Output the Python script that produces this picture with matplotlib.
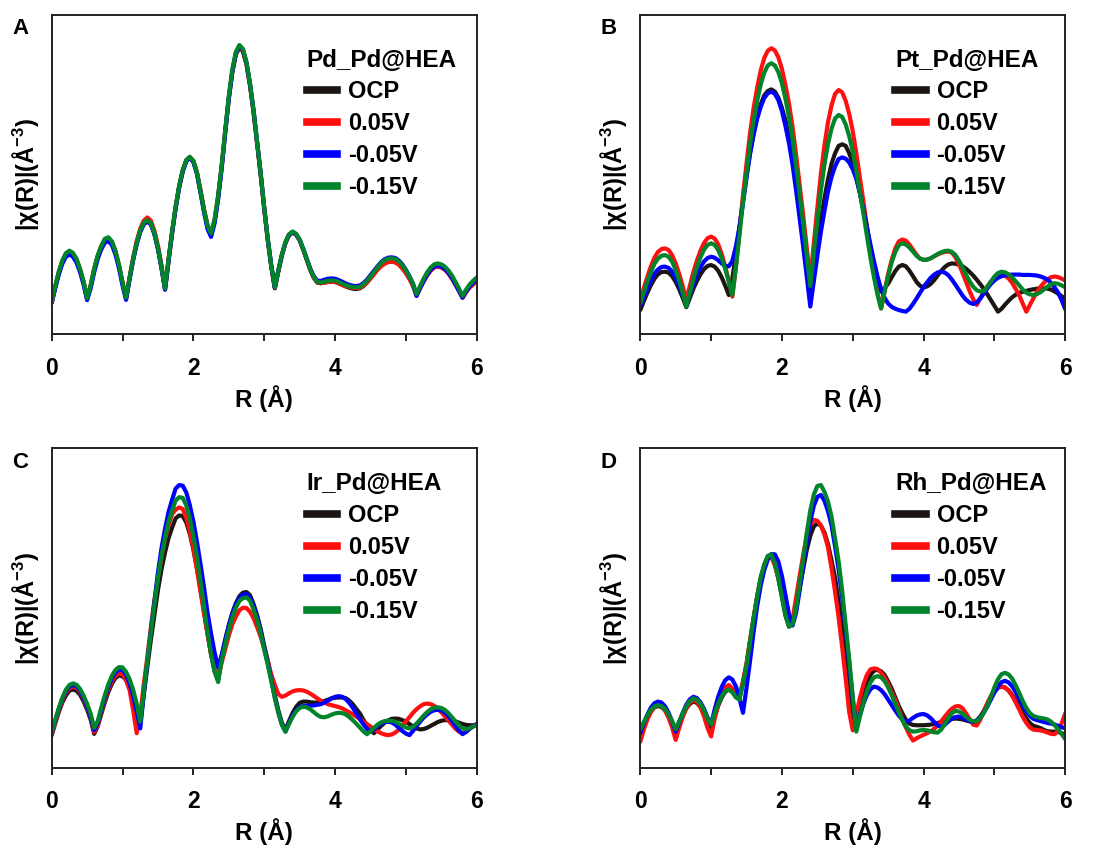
import numpy as np
import matplotlib
matplotlib.use('Agg')
import matplotlib.pyplot as plt
from matplotlib.lines import Line2D

plt.rcParams['font.family'] = ['Liberation Sans', 'DejaVu Sans']
plt.rcParams['font.weight'] = 'bold'
plt.rcParams['mathtext.fontset'] = 'custom'
plt.rcParams['mathtext.rm'] = 'Liberation Sans:bold'
plt.rcParams['mathtext.default'] = 'rm'

# R grid (Å), 0.05 step
r = np.round(np.arange(0, 6.0001, 0.05), 2)

# |chi(R)| magnitudes, arbitrary units (axis spans 0-10)
pd_ocp = [1.00, 1.48, 1.93, 2.27, 2.50, 2.58, 2.51, 2.33, 2.02, 1.63,
          1.12, 1.51, 2.03, 2.44, 2.74, 2.95, 3.00, 2.88, 2.58, 2.14,
          1.60, 1.14, 1.76, 2.35, 2.84, 3.22, 3.47, 3.55, 3.46, 3.15,
          2.68, 2.08, 1.42, 2.33, 3.20, 3.98, 4.63, 5.12, 5.43, 5.53,
          5.41, 5.05, 4.48, 3.88, 3.37, 3.12, 3.55, 4.30, 5.25, 6.35,
          7.38, 8.22, 8.77, 8.98, 8.86, 8.46, 7.79, 6.96, 5.98, 5.01,
          3.94, 2.96, 2.12, 1.44, 1.98, 2.47, 2.86, 3.10, 3.19, 3.12,
          2.95, 2.66, 2.34, 2.02, 1.77, 1.62, 1.60, 1.62, 1.64, 1.65,
          1.64, 1.60, 1.55, 1.50, 1.46, 1.43, 1.42, 1.44, 1.51, 1.62,
          1.76, 1.90, 2.05, 2.18, 2.27, 2.32, 2.33, 2.31, 2.23, 2.11,
          1.95, 1.76, 1.54, 1.23, 1.47, 1.70, 1.90, 2.05, 2.15, 2.18,
          2.15, 2.08, 1.96, 1.80, 1.60, 1.39, 1.17, 1.36, 1.52, 1.64,
          1.74]
pd_005 = [1.00, 1.49, 1.94, 2.29, 2.52, 2.60, 2.53, 2.35, 2.04, 1.64,
          1.12, 1.52, 2.04, 2.45, 2.75, 2.97, 3.02, 2.89, 2.60, 2.16,
          1.62, 1.13, 1.78, 2.40, 2.92, 3.31, 3.56, 3.66, 3.56, 3.25,
          2.78, 2.17, 1.40, 2.30, 3.18, 3.97, 4.63, 5.13, 5.45, 5.55,
          5.43, 5.08, 4.52, 3.92, 3.42, 3.16, 3.58, 4.32, 5.26, 6.36,
          7.40, 8.24, 8.78, 8.98, 8.86, 8.46, 7.79, 6.96, 5.98, 5.01,
          3.94, 2.96, 2.12, 1.45, 1.99, 2.48, 2.87, 3.11, 3.20, 3.13,
          2.95, 2.66, 2.34, 2.02, 1.77, 1.62, 1.60, 1.62, 1.64, 1.65,
          1.64, 1.60, 1.55, 1.51, 1.48, 1.46, 1.45, 1.46, 1.52, 1.62,
          1.75, 1.88, 2.02, 2.13, 2.21, 2.26, 2.27, 2.25, 2.18, 2.06,
          1.91, 1.73, 1.52, 1.22, 1.44, 1.65, 1.84, 1.99, 2.09, 2.12,
          2.09, 2.02, 1.90, 1.74, 1.55, 1.35, 1.14, 1.32, 1.46, 1.56,
          1.65]
pd_m005 = [0.98, 1.44, 1.87, 2.21, 2.43, 2.50, 2.43, 2.25, 1.95, 1.56,
           1.07, 1.44, 1.95, 2.36, 2.66, 2.87, 2.92, 2.80, 2.50, 2.07,
           1.53, 1.08, 1.72, 2.32, 2.82, 3.20, 3.45, 3.53, 3.44, 3.14,
           2.68, 2.08, 1.40, 2.30, 3.17, 3.95, 4.60, 5.10, 5.42, 5.53,
           5.40, 5.03, 4.45, 3.83, 3.30, 3.05, 3.48, 4.24, 5.20, 6.32,
           7.38, 8.23, 8.80, 9.02, 8.91, 8.50, 7.83, 7.00, 6.02, 5.04,
           3.97, 2.99, 2.15, 1.46, 2.00, 2.49, 2.88, 3.12, 3.20, 3.13,
           2.96, 2.68, 2.37, 2.06, 1.82, 1.68, 1.67, 1.71, 1.74, 1.75,
           1.74, 1.70, 1.65, 1.59, 1.55, 1.52, 1.51, 1.53, 1.60, 1.71,
           1.85, 1.99, 2.13, 2.26, 2.35, 2.40, 2.41, 2.39, 2.31, 2.19,
           2.02, 1.82, 1.58, 1.20, 1.44, 1.67, 1.87, 2.02, 2.12, 2.15,
           2.12, 2.05, 1.93, 1.77, 1.57, 1.36, 1.15, 1.34, 1.50, 1.62,
           1.72]
pd_m015 = [1.02, 1.51, 1.96, 2.31, 2.54, 2.62, 2.55, 2.36, 2.05, 1.65,
           1.13, 1.54, 2.06, 2.47, 2.77, 2.99, 3.04, 2.91, 2.61, 2.17,
           1.62, 1.15, 1.78, 2.37, 2.87, 3.25, 3.50, 3.58, 3.48, 3.17,
           2.70, 2.10, 1.44, 2.36, 3.23, 4.01, 4.66, 5.15, 5.46, 5.56,
           5.43, 5.07, 4.50, 3.90, 3.40, 3.16, 3.60, 4.35, 5.30, 6.40,
           7.45, 8.30, 8.85, 9.06, 8.94, 8.53, 7.85, 7.01, 6.02, 5.04,
           3.97, 2.99, 2.15, 1.47, 2.01, 2.50, 2.89, 3.13, 3.22, 3.15,
           2.97, 2.68, 2.36, 2.04, 1.79, 1.64, 1.62, 1.65, 1.68, 1.69,
           1.68, 1.64, 1.59, 1.54, 1.50, 1.48, 1.47, 1.49, 1.56, 1.67,
           1.81, 1.95, 2.10, 2.23, 2.32, 2.37, 2.38, 2.36, 2.28, 2.16,
           2.00, 1.81, 1.59, 1.26, 1.51, 1.74, 1.94, 2.09, 2.19, 2.22,
           2.19, 2.12, 2.00, 1.84, 1.64, 1.43, 1.20, 1.40, 1.56, 1.68,
           1.78]

pt_ocp = [0.76, 1.04, 1.30, 1.54, 1.74, 1.88, 1.95, 1.96, 1.93, 1.82,
          1.64, 1.41, 1.14, 0.85, 1.14, 1.43, 1.67, 1.88, 2.04, 2.14,
          2.17, 2.12, 1.99, 1.78, 1.52, 1.23, 1.75, 2.50, 3.35, 4.20,
          5.00, 5.70, 6.30, 6.80, 7.20, 7.48, 7.62, 7.67, 7.60, 7.41,
          7.09, 6.70, 6.19, 5.48, 4.71, 3.87, 3.03, 2.13, 1.23, 2.03,
          2.84, 3.59, 4.25, 4.86, 5.34, 5.67, 5.90, 5.95, 5.90, 5.67,
          5.35, 4.93, 4.43, 3.92, 3.32, 2.68, 2.17, 1.71, 1.34, 1.45,
          1.59, 1.79, 1.98, 2.12, 2.17, 2.13, 1.99, 1.82, 1.64, 1.52,
          1.47, 1.50, 1.58, 1.70, 1.85, 1.99, 2.11, 2.19, 2.22, 2.21,
          2.18, 2.13, 2.05, 1.95, 1.84, 1.71, 1.57, 1.42, 1.25, 1.07,
          0.89, 0.71, 0.80, 0.93, 1.05, 1.16, 1.24, 1.30, 1.33, 1.36,
          1.39, 1.41, 1.43, 1.44, 1.44, 1.43, 1.40, 1.34, 1.27, 1.19,
          1.10]
pt_005 = [1.08, 1.45, 1.80, 2.13, 2.40, 2.58, 2.67, 2.69, 2.64, 2.48,
          2.22, 1.89, 1.50, 1.08, 1.52, 1.95, 2.31, 2.62, 2.86, 3.01,
          3.06, 3.00, 2.82, 2.51, 2.12, 1.67, 1.18, 2.10, 3.20, 4.35,
          5.35, 6.31, 7.09, 7.72, 8.26, 8.65, 8.88, 8.96, 8.89, 8.67,
          8.31, 7.80, 7.22, 6.49, 5.62, 4.68, 3.73, 2.72, 1.70, 2.86,
          3.96, 5.03, 5.92, 6.64, 7.17, 7.53, 7.65, 7.58, 7.31, 6.90,
          6.35, 5.67, 4.91, 4.16, 3.38, 2.59, 1.90, 1.29, 0.81, 1.37,
          1.89, 2.34, 2.69, 2.91, 2.97, 2.93, 2.81, 2.65, 2.49, 2.37,
          2.33, 2.34, 2.38, 2.44, 2.50, 2.55, 2.58, 2.59, 2.56, 2.41,
          2.19, 1.92, 1.64, 1.35, 1.10, 0.92, 1.13, 1.33, 1.50, 1.65,
          1.77, 1.84, 1.86, 1.83, 1.75, 1.61, 1.42, 1.22, 0.96, 0.71,
          0.92, 1.13, 1.33, 1.49, 1.62, 1.72, 1.79, 1.81, 1.79, 1.74,
          1.68]
pt_m005 = [0.87, 1.16, 1.43, 1.68, 1.90, 2.03, 2.11, 2.12, 2.08, 1.96,
           1.77, 1.52, 1.23, 0.92, 1.25, 1.58, 1.86, 2.10, 2.28, 2.39,
           2.43, 2.40, 2.32, 2.22, 2.14, 2.13, 2.30, 2.75, 3.35, 4.10,
           4.90, 5.65, 6.25, 6.75, 7.12, 7.40, 7.55, 7.60, 7.53, 7.33,
           6.99, 6.52, 5.98, 5.31, 4.50, 3.63, 2.75, 1.81, 0.87, 1.66,
           2.46, 3.21, 3.86, 4.47, 4.93, 5.26, 5.49, 5.54, 5.50, 5.38,
           5.17, 4.87, 4.43, 3.90, 3.35, 2.80, 2.28, 1.80, 1.42, 1.14,
           0.96, 0.86, 0.80, 0.76, 0.73, 0.71, 0.80, 0.95, 1.12, 1.30,
           1.48, 1.63, 1.77, 1.87, 1.94, 1.96, 1.93, 1.85, 1.71, 1.55,
           1.38, 1.21, 1.08, 0.99, 0.95, 1.00, 1.12, 1.28, 1.44, 1.58,
           1.69, 1.77, 1.82, 1.85, 1.86, 1.87, 1.87, 1.87, 1.86, 1.86,
           1.86, 1.85, 1.84, 1.81, 1.77, 1.71, 1.61, 1.47, 1.30, 1.06,
           0.78]
pt_m015 = [0.97, 1.32, 1.65, 1.95, 2.21, 2.37, 2.46, 2.48, 2.43, 2.27,
           2.01, 1.68, 1.29, 0.87, 1.31, 1.74, 2.10, 2.41, 2.65, 2.80,
           2.85, 2.80, 2.64, 2.38, 2.04, 1.65, 1.23, 2.10, 3.10, 4.15,
           5.05, 5.95, 6.70, 7.30, 7.82, 8.19, 8.42, 8.49, 8.42, 8.21,
           7.86, 7.37, 6.81, 6.12, 5.28, 4.37, 3.46, 2.49, 1.51, 2.56,
           3.55, 4.51, 5.32, 5.96, 6.44, 6.76, 6.87, 6.81, 6.57, 6.20,
           5.72, 5.11, 4.45, 3.78, 3.08, 2.39, 1.78, 1.23, 0.81, 1.34,
           1.83, 2.26, 2.58, 2.79, 2.85, 2.81, 2.72, 2.59, 2.46, 2.37,
           2.33, 2.34, 2.38, 2.45, 2.52, 2.57, 2.61, 2.62, 2.58, 2.48,
           2.30, 2.10, 1.86, 1.66, 1.49, 1.38, 1.34, 1.36, 1.49, 1.65,
           1.81, 1.92, 1.96, 1.94, 1.88, 1.78, 1.66, 1.53, 1.40, 1.30,
           1.25, 1.23, 1.26, 1.32, 1.41, 1.50, 1.57, 1.60, 1.58, 1.53,
           1.47]

ir_ocp = [1.02, 1.39, 1.74, 2.04, 2.26, 2.41, 2.45, 2.41, 2.29, 2.08,
          1.82, 1.51, 1.06, 1.30, 1.68, 2.05, 2.37, 2.63, 2.81, 2.89,
          2.86, 2.75, 2.52, 2.21, 1.81, 1.39, 2.30, 3.15, 4.00, 4.78,
          5.56, 6.21, 6.74, 7.19, 7.52, 7.81, 7.90, 7.88, 7.68, 7.32,
          6.83, 6.25, 5.60, 4.90, 4.20, 3.55, 3.03, 2.77, 3.50, 4.01,
          4.46, 4.85, 5.15, 5.37, 5.48, 5.50, 5.40, 5.12, 4.77, 4.34,
          3.82, 3.35, 2.80, 2.26, 1.79, 1.40, 1.18, 1.46, 1.71, 1.90,
          2.03, 2.07, 2.07, 2.05, 2.04, 2.04, 2.06, 2.09, 2.13, 2.17,
          2.19, 2.20, 2.20, 2.18, 2.10, 1.99, 1.84, 1.70, 1.50, 1.33,
          1.19, 1.08, 1.20, 1.31, 1.41, 1.48, 1.53, 1.54, 1.53, 1.49,
          1.44, 1.37, 1.29, 1.23, 1.20, 1.21, 1.25, 1.31, 1.37, 1.43,
          1.47, 1.49, 1.49, 1.48, 1.45, 1.41, 1.37, 1.34, 1.33, 1.33,
          1.34]
ir_005 = [1.02, 1.42, 1.78, 2.10, 2.34, 2.49, 2.54, 2.50, 2.38, 2.16,
          1.90, 1.58, 1.12, 1.33, 1.75, 2.13, 2.45, 2.71, 2.88, 2.96,
          2.93, 2.74, 2.43, 1.80, 1.08, 1.65, 2.61, 3.46, 4.39, 5.24,
          5.95, 6.59, 7.16, 7.58, 7.94, 8.08, 8.15, 8.10, 7.83, 7.40,
          6.87, 6.22, 5.53, 4.83, 4.19, 3.55, 3.07, 2.82, 3.29, 3.71,
          4.13, 4.49, 4.73, 4.93, 5.01, 5.00, 4.88, 4.68, 4.40, 4.10,
          3.73, 3.34, 2.92, 2.59, 2.30, 2.22, 2.26, 2.33, 2.39, 2.42,
          2.43, 2.42, 2.38, 2.32, 2.25, 2.17, 2.10, 2.04, 1.99, 1.96,
          1.93, 1.90, 1.86, 1.80, 1.74, 1.67, 1.60, 1.53, 1.45, 1.37,
          1.29, 1.21, 1.14, 1.08, 1.04, 1.02, 1.04, 1.10, 1.19, 1.31,
          1.45, 1.58, 1.72, 1.83, 1.92, 1.99, 2.01, 1.99, 1.94, 1.85,
          1.74, 1.61, 1.48, 1.35, 1.22, 1.13, 1.08, 1.13, 1.22, 1.30,
          1.37]
ir_m005 = [1.08, 1.47, 1.84, 2.15, 2.39, 2.54, 2.59, 2.55, 2.42, 2.19,
           1.92, 1.60, 1.18, 1.39, 1.81, 2.20, 2.53, 2.80, 2.98, 3.07,
           3.06, 2.91, 2.64, 2.25, 1.77, 1.23, 2.30, 3.29, 4.28, 5.19,
           6.11, 6.87, 7.48, 8.01, 8.39, 8.74, 8.85, 8.83, 8.62, 8.22,
           7.71, 7.08, 6.39, 5.65, 4.85, 4.20, 3.60, 3.14, 3.53, 3.99,
           4.44, 4.81, 5.11, 5.31, 5.42, 5.44, 5.33, 5.05, 4.71, 4.28,
           3.76, 3.28, 2.75, 2.21, 1.73, 1.35, 1.13, 1.40, 1.63, 1.80,
           1.90, 1.93, 1.94, 1.94, 1.95, 1.97, 1.99, 2.04, 2.10, 2.17,
           2.22, 2.24, 2.22, 2.15, 2.03, 1.88, 1.70, 1.52, 1.36, 1.22,
           1.13, 1.20, 1.30, 1.38, 1.43, 1.44, 1.42, 1.35, 1.25, 1.15,
           1.07, 1.02, 1.15, 1.30, 1.44, 1.57, 1.67, 1.75, 1.80, 1.81,
           1.79, 1.73, 1.62, 1.47, 1.31, 1.16, 1.05, 1.12, 1.22, 1.30,
           1.37]
ir_m015 = [1.08, 1.49, 1.86, 2.19, 2.44, 2.59, 2.64, 2.60, 2.47, 2.26,
           2.00, 1.69, 1.25, 1.46, 1.88, 2.27, 2.61, 2.88, 3.06, 3.15,
           3.14, 3.00, 2.77, 2.44, 2.00, 1.44, 2.42, 3.34, 4.25, 5.10,
           5.94, 6.64, 7.20, 7.70, 8.05, 8.37, 8.47, 8.45, 8.21, 7.80,
           7.25, 6.60, 5.85, 5.05, 4.25, 3.55, 3.00, 2.68, 3.38, 3.86,
           4.32, 4.71, 5.01, 5.22, 5.31, 5.33, 5.23, 4.95, 4.62, 4.20,
           3.69, 3.23, 2.71, 2.18, 1.72, 1.34, 1.13, 1.37, 1.59, 1.76,
           1.87, 1.91, 1.89, 1.83, 1.74, 1.65, 1.59, 1.58, 1.61, 1.66,
           1.70, 1.72, 1.71, 1.67, 1.59, 1.49, 1.38, 1.26, 1.14, 1.05,
           1.14, 1.25, 1.35, 1.42, 1.46, 1.47, 1.47, 1.44, 1.38, 1.31,
           1.26, 1.23, 1.28, 1.38, 1.50, 1.63, 1.74, 1.83, 1.88, 1.89,
           1.87, 1.81, 1.71, 1.58, 1.45, 1.33, 1.24, 1.20, 1.24, 1.29,
           1.34]

rh_ocp = [1.13, 1.38, 1.60, 1.78, 1.89, 1.93, 1.90, 1.80, 1.63, 1.41,
          1.18, 1.43, 1.66, 1.86, 2.00, 2.07, 2.03, 1.90, 1.68, 1.38,
          1.25, 1.62, 1.94, 2.20, 2.38, 2.45, 2.37, 2.22, 2.19, 2.66,
          3.22, 3.97, 4.68, 5.36, 5.94, 6.35, 6.61, 6.66, 6.38, 5.92,
          5.35, 4.77, 4.42, 4.55, 5.05, 5.63, 6.22, 6.81, 7.26, 7.55,
          7.65, 7.58, 7.36, 7.00, 6.49, 5.94, 5.19, 4.29, 3.44, 2.47,
          1.25, 1.47, 1.93, 2.35, 2.67, 2.91, 3.04, 3.06, 3.02, 2.90,
          2.70, 2.47, 2.20, 1.93, 1.70, 1.50, 1.38, 1.34, 1.33, 1.33,
          1.33, 1.34, 1.35, 1.37, 1.40, 1.44, 1.48, 1.51, 1.53, 1.54,
          1.53, 1.51, 1.48, 1.45, 1.44, 1.48, 1.60, 1.78, 1.99, 2.20,
          2.38, 2.50, 2.54, 2.51, 2.42, 2.28, 2.11, 1.91, 1.71, 1.54,
          1.40, 1.31, 1.28, 1.24, 1.18, 1.14, 1.13, 1.13, 1.12, 1.08,
          1.02]
rh_005 = [0.81, 1.19, 1.51, 1.74, 1.90, 1.96, 1.92, 1.79, 1.56, 1.26,
          0.87, 1.25, 1.59, 1.86, 2.04, 2.12, 2.07, 1.90, 1.61, 1.24,
          0.98, 1.53, 1.96, 2.32, 2.52, 2.59, 2.48, 2.30, 2.24, 2.72,
          3.27, 3.99, 4.69, 5.34, 5.91, 6.30, 6.56, 6.60, 6.33, 5.94,
          5.42, 4.90, 4.58, 4.65, 5.33, 6.01, 6.66, 7.24, 7.60, 7.76,
          7.73, 7.59, 7.30, 6.90, 6.24, 5.51, 4.71, 3.78, 2.79, 1.73,
          1.17, 1.68, 2.18, 2.60, 2.91, 3.08, 3.11, 3.09, 2.97, 2.82,
          2.61, 2.36, 2.12, 1.82, 1.51, 1.26, 1.03, 0.85, 0.92, 0.98,
          1.03, 1.08, 1.14, 1.22, 1.33, 1.46, 1.60, 1.74, 1.85, 1.92,
          1.93, 1.86, 1.70, 1.52, 1.35, 1.32, 1.50, 1.77, 2.03, 2.25,
          2.42, 2.52, 2.54, 2.51, 2.41, 2.25, 2.04, 1.82, 1.59, 1.40,
          1.26, 1.19, 1.18, 1.17, 1.14, 1.10, 1.06, 1.05, 1.15, 1.40,
          1.70]
rh_m005 = [1.08, 1.39, 1.66, 1.88, 2.02, 2.07, 2.04, 1.92, 1.72, 1.44,
           1.13, 1.43, 1.72, 1.97, 2.14, 2.22, 2.18, 2.05, 1.84, 1.57,
           1.36, 1.82, 2.22, 2.53, 2.74, 2.83, 2.76, 2.55, 2.17, 1.72,
           2.50, 3.35, 4.25, 5.05, 5.70, 6.18, 6.52, 6.69, 6.68, 6.45,
           6.00, 5.40, 4.80, 4.45, 4.85, 5.55, 6.30, 7.05, 7.70, 8.20,
           8.48, 8.54, 8.36, 8.03, 7.59, 6.93, 6.20, 5.32, 4.30, 3.28,
           2.14, 1.23, 1.65, 2.00, 2.28, 2.46, 2.54, 2.51, 2.43, 2.30,
           2.13, 1.96, 1.79, 1.63, 1.51, 1.44, 1.48, 1.56, 1.63, 1.67,
           1.68, 1.64, 1.55, 1.43, 1.32, 1.28, 1.35, 1.45, 1.54, 1.59,
           1.60, 1.57, 1.51, 1.46, 1.44, 1.48, 1.57, 1.73, 1.92, 2.14,
           2.36, 2.55, 2.68, 2.72, 2.67, 2.55, 2.37, 2.16, 1.95, 1.76,
           1.62, 1.53, 1.49, 1.46, 1.43, 1.40, 1.38, 1.35, 1.31, 1.27,
           1.23]
rh_m015 = [1.20, 1.43, 1.64, 1.81, 1.92, 1.96, 1.93, 1.84, 1.67, 1.46,
           1.20, 1.45, 1.70, 1.92, 2.09, 2.17, 2.13, 2.00, 1.80, 1.52,
           1.36, 1.70, 2.00, 2.24, 2.40, 2.45, 2.37, 2.20, 2.13, 2.63,
           3.20, 3.95, 4.68, 5.36, 5.95, 6.36, 6.63, 6.68, 6.40, 5.93,
           5.34, 4.76, 4.41, 4.50, 5.00, 5.75, 6.55, 7.35, 8.05, 8.55,
           8.82, 8.85, 8.64, 8.33, 7.86, 7.17, 6.47, 5.54, 4.46, 3.38,
           2.21, 1.13, 1.60, 2.04, 2.40, 2.67, 2.83, 2.87, 2.83, 2.71,
           2.51, 2.27, 2.00, 1.73, 1.49, 1.29, 1.17, 1.13, 1.14, 1.17,
           1.18, 1.17, 1.14, 1.11, 1.10, 1.20, 1.37, 1.56, 1.71, 1.78,
           1.76, 1.69, 1.59, 1.50, 1.45, 1.46, 1.55, 1.72, 1.95, 2.22,
           2.52, 2.77, 2.93, 2.97, 2.92, 2.79, 2.58, 2.34, 2.09, 1.87,
           1.71, 1.62, 1.58, 1.56, 1.54, 1.51, 1.44, 1.33, 1.20, 1.05,
           0.89]

labels = ['OCP', '0.05V', '-0.05V', '-0.15V']
colors = ['#1c1512', '#ff1010', '#0000ff', '#00852a']

panels = [
    ('A', 'Pd_Pd@HEA', [pd_ocp, pd_005, pd_m005, pd_m015], [0.0469, 0.6053, 0.3857, 0.3770], 0.895),
    ('B', 'Pt_Pd@HEA', [pt_ocp, pt_005, pt_m005, pt_m015], [0.5810, 0.6053, 0.3857, 0.3770], 0.895),
    ('C', 'Ir_Pd@HEA', [ir_ocp, ir_005, ir_m005, ir_m015], [0.0469, 0.0936, 0.3857, 0.3771], 0.925),
    ('D', 'Rh_Pd@HEA', [rh_ocp, rh_005, rh_m005, rh_m015], [0.5810, 0.0936, 0.3857, 0.3771], 0.925),
]

fig = plt.figure(figsize=(11.02, 8.47), dpi=100)

for tag, title, curves, box, leg_top in panels:
    ax = fig.add_axes(box)
    for y, c in zip(curves, colors):
        ax.plot(r, y, color=c, lw=3.0, solid_capstyle='round')
    ax.set_xlim(0, 6)
    ax.set_ylim(0, 10)
    ax.set_xticks([0, 2, 4, 6])
    ax.set_xticks([1, 3, 5], minor=True)
    ax.set_yticks([])
    ax.tick_params(axis='x', which='both', direction='out', length=5,
                   width=1.4, pad=11, labelsize=16.5, color='#222222')
    for s in ax.spines.values():
        s.set_linewidth(1.4)
        s.set_color('#222222')
    ax.set_xlabel('R (Å)', fontsize=17.5, fontweight='bold', labelpad=4)
    ax.set_ylabel('|χ(R)|(Å$^{-3}$)', fontsize=17, fontweight='bold', labelpad=8)

    handles = [Line2D([], [], color=c, lw=5.5) for c in colors]
    leg = ax.legend(handles, labels, title=title, loc='upper left',
                    bbox_to_anchor=(0.60, leg_top), frameon=False,
                    prop={'weight': 'bold', 'size': 17},
                    title_fontproperties={'weight': 'bold', 'size': 17.5},
                    handlelength=1.3, handletextpad=0.45, labelspacing=0.38,
                    borderpad=0, borderaxespad=0, alignment='left')

    fig.text(box[0] - 0.036, box[1] + box[3] - 0.004, tag, fontsize=16,
             fontweight='bold', va='top', ha='left')

fig.savefig('out.png', dpi=100)
